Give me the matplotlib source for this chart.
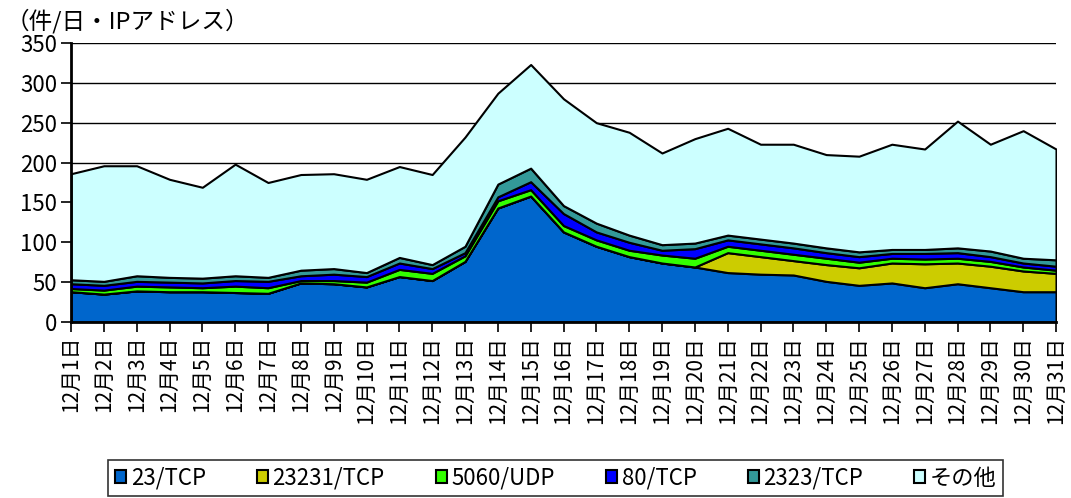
import matplotlib
matplotlib.use("Agg")
import matplotlib.pyplot as plt
import numpy as np

plt.rcParams['font.family'] = ['Noto Sans CJK JP', 'DejaVu Sans']

days = [f"12月{d}日" for d in range(1, 32)]

# daily counts per port (stack order bottom -> top)
tcp23 = [38, 35, 39, 38, 38, 37, 36, 49, 48, 44, 57, 52, 76, 143, 158, 113,
         95, 82, 74, 69, 62, 60, 59, 51, 46, 49, 43, 48, 43, 38, 38]
tcp23231 = [0, 0, 0, 0, 0, 0, 0, 0, 0, 0, 0, 0, 0, 0, 0, 0,
            0, 0, 0, 0, 25, 22, 18, 21, 22, 25, 30, 26, 27, 26, 23]
udp5060 = [4, 5, 6, 6, 5, 8, 7, 3, 4, 6, 9, 9, 7, 9, 8, 8,
           8, 8, 10, 11, 8, 8, 8, 8, 7, 6, 6, 6, 6, 5, 4]
tcp80 = [6, 6, 6, 6, 6, 7, 8, 6, 8, 7, 8, 6, 4, 5, 10, 15,
         10, 10, 6, 12, 8, 8, 8, 7, 7, 6, 7, 7, 6, 5, 5]
tcp2323 = [5, 5, 7, 6, 6, 6, 5, 7, 7, 5, 7, 5, 8, 16, 17, 10,
           11, 9, 7, 7, 6, 6, 6, 6, 6, 5, 5, 6, 7, 6, 8]
other = [133, 145, 138, 123, 114, 140, 119, 120, 119, 117, 114, 113, 137, 114, 130, 134,
         126, 129, 115, 131, 134, 119, 124, 117, 120, 132, 126, 159, 134, 160, 139]

labels = ["23/TCP", "23231/TCP", "5060/UDP", "80/TCP", "2323/TCP", "その他"]
colors = ["#0066CC", "#CCCC00", "#33FF00", "#0000FF", "#339999", "#CCFFFF"]

fig = plt.figure(figsize=(10.71, 4.98), dpi=100)
ax = fig.add_axes([0.0663, 0.3534, 0.9197, 0.5603])

x = np.arange(len(days))
ax.stackplot(x, tcp23, tcp23231, udp5060, tcp80, tcp2323, other,
             colors=colors, labels=labels, edgecolor="black", linewidth=1.5, zorder=2)

ax.set_xlim(0, len(days) - 1)
ax.set_ylim(0, 350)
ax.set_yticks(range(0, 351, 50))
ax.yaxis.grid(True, color="black", linewidth=1, zorder=0)
ax.set_axisbelow(True)
ax.set_xticks(x)
ax.set_xticklabels(days, rotation=90, fontsize=15)
ax.tick_params(axis="y", labelsize=16, direction="out", length=7, width=1.2, pad=3)
ax.tick_params(axis="x", direction="out", length=7, width=1.2, pad=3)

for s in ["top", "right"]:
    ax.spines[s].set_visible(False)
for s in ["left", "bottom"]:
    ax.spines[s].set_linewidth(2)

fig.text(0.005, 0.958, "（件/日・IPアドレス）", fontsize=17, ha="left", va="center")

leg = fig.legend(loc="lower center", bbox_to_anchor=(0.519, -0.01), ncol=6, fontsize=16,
                 frameon=True, fancybox=False, edgecolor="black", handlelength=0.5,
                 handleheight=0.5, handletextpad=0.2, columnspacing=2.3, borderpad=0.3,
                 borderaxespad=0.3)
leg.get_frame().set_linewidth(1.2)

fig.savefig("out.png", dpi=100)
